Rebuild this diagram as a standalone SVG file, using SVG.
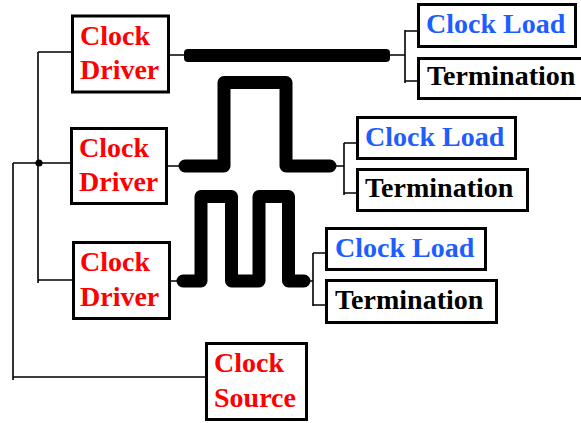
<svg xmlns="http://www.w3.org/2000/svg" width="581" height="423" viewBox="0 0 581 423">
<style>
.box{fill:#fff;stroke:#000;stroke-width:3}
.t{font-family:"Liberation Serif","Times New Roman",serif;font-weight:bold;font-size:28px}
.red{fill:#ff0000}
.blue{fill:#1e5eff}
.blk{fill:#000}
.thin{fill:none;stroke:#000;stroke-width:1.6}
.wave{fill:none;stroke:#000;stroke-width:13;stroke-linecap:round;stroke-linejoin:round}
</style>
<rect width="581" height="423" fill="#fff"/>
<g id="connectors">
<path class="thin" d="M38,52 V283 M38,52 H72 M13,163 H72 M38,280 H73 M13,163 V380 M13,377 H206"/>
<circle cx="39" cy="163" r="3.6" fill="#000"/>
<path class="thin" d="M170,55 H186 M390,55 H405 M405,30 V83 M405,31 H418 M405,81 H418"/>
<rect x="184" y="49" width="206" height="13" rx="4" fill="#000"/>
<path class="thin" d="M168,166 H182 M330,166 H344 M344,143 V195 M344,143 H357 M344,193 H357"/>
<path class="wave" d="M185,166 H224 V82.5 H286 V166 H330"/>
<path class="thin" d="M171,281 H182 M304,281 H313 M313,253 V306 M313,253 H326 M313,305 H326"/>
<path class="wave" d="M183,281 H201 V196.5 H231.5 V281 H259 V196.5 H288.5 V281 H304"/>
</g>
<g id="driver1">
<rect class="box" x="72.5" y="16" width="96" height="76"/>
<text class="t red" x="80" y="45">Clock</text>
<text class="t red" x="80" y="79">Driver</text>
</g>
<g id="driver2">
<rect class="box" x="71.5" y="128.5" width="95" height="75"/>
<text class="t red" x="79" y="157">Clock</text>
<text class="t red" x="79" y="191">Driver</text>
</g>
<g id="driver3">
<rect class="box" x="73.5" y="242.5" width="96" height="76"/>
<text class="t red" x="80" y="271">Clock</text>
<text class="t red" x="80" y="306">Driver</text>
</g>
<g id="source">
<rect class="box" x="206.5" y="343.5" width="100" height="76"/>
<text class="t red" x="214" y="372">Clock</text>
<text class="t red" x="214" y="407">Source</text>
</g>
<g id="load1">
<rect class="box" x="418.5" y="4.5" width="157" height="42"/>
<text class="t blue" x="426" y="33">Clock Load</text>
</g>
<g id="term1">
<rect class="box" x="418.5" y="58.5" width="170" height="40"/>
<text class="t blk" x="427" y="85">Termination</text>
</g>
<g id="load2">
<rect class="box" x="357.5" y="117.5" width="158" height="41"/>
<text class="t blue" x="365" y="146">Clock Load</text>
</g>
<g id="term2">
<rect class="box" x="357.5" y="169.5" width="170" height="41"/>
<text class="t blk" x="365" y="197">Termination</text>
</g>
<g id="load3">
<rect class="box" x="326.5" y="228.5" width="159" height="41"/>
<text class="t blue" x="335" y="257">Clock Load</text>
</g>
<g id="term3">
<rect class="box" x="326.5" y="280.5" width="170" height="42"/>
<text class="t blk" x="335" y="309">Termination</text>
</g>
</svg>
